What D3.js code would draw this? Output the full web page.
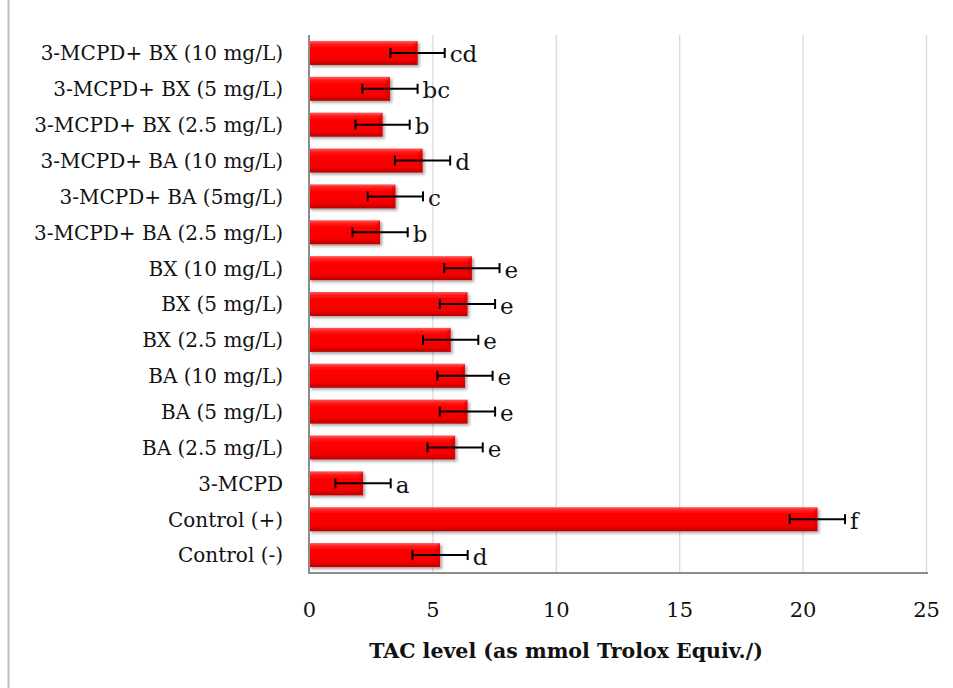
<!DOCTYPE html>
<html>
<head>
<meta charset="utf-8">
<script src="https://cdn.jsdelivr.net/npm/d3@7"></script>
<style>
  html, body { margin: 0; padding: 0; background: #fff; }
  svg { display: block; }
  text { font-family: "DejaVu Serif", "Liberation Serif", serif; fill: #111; }
</style>
</head>
<body>
<svg id="chart" width="953" height="688"></svg>
<script>
// Treatment groups, listed top to bottom
const categories = [
  "3-MCPD+ BX (10 mg/L)",
  "3-MCPD+ BX (5 mg/L)",
  "3-MCPD+ BX (2.5 mg/L)",
  "3-MCPD+ BA (10 mg/L)",
  "3-MCPD+ BA (5mg/L)",
  "3-MCPD+ BA (2.5 mg/L)",
  "BX (10 mg/L)",
  "BX (5 mg/L)",
  "BX (2.5 mg/L)",
  "BA (10 mg/L)",
  "BA (5 mg/L)",
  "BA (2.5 mg/L)",
  "3-MCPD",
  "Control (+)",
  "Control (-)"
];
// Mean TAC level (mmol Trolox Equiv.)
const values = [4.4, 3.28, 2.98, 4.6, 3.5, 2.88, 6.6, 6.42, 5.74, 6.32, 6.42, 5.92, 2.19, 20.6, 5.31];
// Standard deviation
const errors = [1.1, 1.12, 1.1, 1.12, 1.12, 1.12, 1.12, 1.12, 1.12, 1.12, 1.12, 1.12, 1.12, 1.12, 1.12];
// Significance letters
const letters = ["cd", "bc", "b", "d", "c", "b", "e", "e", "e", "e", "e", "e", "a", "f", "d"];
const xTicks = [0, 5, 10, 15, 20, 25];
const xTitle = "TAC level (as mmol Trolox Equiv./)";

const data = categories.map((c, i) => ({ cat: c, v: values[i], e: errors[i], letter: letters[i] }));

const svg = d3.select("#chart");
const plot = { left: 309, right: 926, top: 35, bottom: 573 };

const x = d3.scaleLinear().domain([0, 25]).range([plot.left, plot.right]);
const y = d3.scaleBand().domain(categories).range([plot.top, plot.bottom])
  .paddingInner(0.33).paddingOuter(0.165);

// Outer frame edge on the left
svg.append("line").attr("x1", 8.5).attr("x2", 8.5).attr("y1", 0).attr("y2", 688)
  .attr("stroke", "#bdbdbd").attr("stroke-width", 2);

// Defs: bar gradient and shadow
const defs = svg.append("defs");
const grad = defs.append("linearGradient").attr("id", "barGrad")
  .attr("x1", 0).attr("y1", 0).attr("x2", 0).attr("y2", 1);
[["0%", "#ff5a5a"], ["14%", "#ff1a1a"], ["30%", "#ff0000"], ["78%", "#f40000"], ["100%", "#b80000"]]
  .forEach(([o, c]) => grad.append("stop").attr("offset", o).attr("stop-color", c));
const sh = defs.append("filter").attr("id", "shadow").attr("x", "-5%").attr("y", "-20%")
  .attr("width", "115%").attr("height", "160%");
sh.append("feDropShadow").attr("dx", 2).attr("dy", 2).attr("stdDeviation", 1.6)
  .attr("flood-color", "#000").attr("flood-opacity", 0.35);

// Vertical gridlines
svg.append("g")
  .attr("transform", `translate(0,${plot.bottom})`)
  .call(d3.axisBottom(x).tickValues(xTicks.slice(1)).tickSize(-(plot.bottom - plot.top)).tickFormat(""))
  .call(g => g.select(".domain").remove())
  .call(g => g.selectAll("line").attr("stroke", "#d9d9d9").attr("stroke-width", 1.3));

// Bars
const bars = svg.append("g");
bars.selectAll("rect.bar").data(data).join("rect")
  .attr("class", "bar")
  .attr("x", x(0))
  .attr("y", d => y(d.cat))
  .attr("width", d => x(d.v) - x(0))
  .attr("height", y.bandwidth())
  .attr("fill", "url(#barGrad)")
  .attr("filter", "url(#shadow)");
// Bevelled right end of each bar
bars.selectAll("path.bevel").data(data).join("path")
  .attr("class", "bevel")
  .attr("d", d => {
    const x1 = x(d.v), y0 = y(d.cat), h = y.bandwidth(), b = 4;
    return `M${x1},${y0}L${x1 - b},${y0 + b}L${x1 - b},${y0 + h - b}L${x1},${y0 + h}Z`;
  })
  .attr("fill", "#d80000").attr("opacity", 0.55);

// Axis lines
svg.append("line").attr("x1", plot.left).attr("x2", plot.left)
  .attr("y1", plot.top).attr("y2", plot.bottom + 1)
  .attr("stroke", "#8c8c8c").attr("stroke-width", 2);
svg.append("line").attr("x1", plot.left).attr("x2", plot.right + 2)
  .attr("y1", plot.bottom).attr("y2", plot.bottom)
  .attr("stroke", "#8c8c8c").attr("stroke-width", 2);

// Error bars
const eb = svg.append("g").attr("stroke", "#000").attr("stroke-width", 2);
data.forEach(d => {
  const cy = y(d.cat) + y.bandwidth() / 2;
  eb.append("line").attr("x1", x(d.v - d.e)).attr("x2", x(d.v + d.e)).attr("y1", cy).attr("y2", cy);
  [d.v - d.e, d.v + d.e].forEach(v =>
    eb.append("line").attr("x1", x(v)).attr("x2", x(v)).attr("y1", cy - 5).attr("y2", cy + 5));
});

// Significance letters
svg.append("g").selectAll("text").data(data).join("text")
  .attr("x", d => x(d.v + d.e) + 5)
  .attr("y", d => y(d.cat) + y.bandwidth() / 2 + 9.5)
  .attr("font-size", 23)
  .text(d => d.letter);

// Category axis
svg.append("g")
  .attr("transform", `translate(${plot.left},0)`)
  .call(d3.axisLeft(y).tickSize(0).tickPadding(26))
  .call(g => g.select(".domain").remove())
  .call(g => g.selectAll("text").attr("font-size", 20).attr("font-family", "DejaVu Serif")
    .attr("fill", "#111").attr("dy", "0.37em"));

// Value axis labels
svg.append("g")
  .attr("transform", `translate(0,${plot.bottom})`)
  .call(d3.axisBottom(x).tickValues(xTicks).tickSize(0).tickPadding(28))
  .call(g => g.select(".domain").remove())
  .call(g => g.selectAll("text").attr("font-size", 21).attr("font-family", "DejaVu Serif")
    .attr("fill", "#111").attr("y", 44).attr("dy", 0));

// Axis title
svg.append("text")
  .attr("x", 566).attr("y", 658)
  .attr("text-anchor", "middle")
  .attr("font-size", 20.5).attr("font-weight", "bold")
  .text(xTitle);
</script>
</body>
</html>
